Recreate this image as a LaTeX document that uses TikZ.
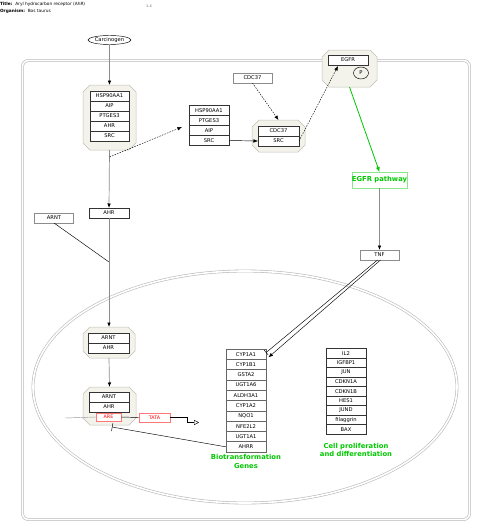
\documentclass[tikz,border=0pt]{standalone}
\usepackage{fontspec}
\setmainfont{DejaVu Sans}
\usetikzlibrary{arrows.meta,shapes.geometric,calc}
\definecolor{octfill}{RGB}{244,243,235}
\definecolor{octline}{RGB}{192,192,182}
\definecolor{cellline}{RGB}{185,185,185}
\definecolor{pgreen}{RGB}{0,200,0}
\definecolor{lgreen}{RGB}{140,230,140}
\definecolor{pred}{RGB}{255,0,0}
\definecolor{lred}{RGB}{255,120,120}
\newcommand\myoctag[5]{%
  \node[octnode,minimum width=#4pt,minimum height=#5pt] (#1) at (#2,#3) {};
  \path[octpath] ($(#1.north west)+(7,0)$) -- ($(#1.north east)+(-7,0)$) -- ($(#1.north east)+(0,7)$) -- ($(#1.south east)+(0,-7)$) -- ($(#1.south east)+(-7,0)$) -- ($(#1.south west)+(7,0)$) -- ($(#1.south west)+(0,-7)$) -- ($(#1.north west)+(0,7)$) -- cycle;}
\begin{document}
\begin{tikzpicture}[x=1pt,y=-1pt,
  every node/.style={inner sep=0pt,outer sep=0pt,font=\fontsize{5.2}{6}\selectfont},
  gene/.style={draw=black!80,fill=white,line width=0.45pt,minimum width=40pt,minimum height=10pt},
  gbox/.style={draw=black!45,fill=white,line width=0.45pt,minimum width=39pt,minimum height=10pt},
  octnode/.style={draw=none,fill=none,rectangle},
  octpath/.style={draw=octline,fill=octfill,line width=0.5pt},
  glabel/.style={font=\bfseries\fontsize{6.8}{8.6}\selectfont,text=pgreen,align=center},
  redbox/.style={draw=lred,fill=white,line width=0.6pt,text=pred,font=\fontsize{4.8}{5.5}\selectfont},
  greyline/.style={draw=black!45,line width=0.7pt},
  thin/.style={draw=black,line width=0.45pt},
  tip/.style={-{Latex[length=4.5pt,width=3.6pt,black]}},
  dashline/.style={draw=black,line width=0.45pt,dash pattern=on 1.5pt off 1.2pt},
]
\useasboundingbox (0,0) rectangle (480,530);
\fill[white] (0,0) rectangle (480,530);
% title
\node[anchor=west,font=\fontsize{4.3}{5}\selectfont] (title) at (0,4.5) {\textbf{Title:}\ \ Aryl hydrocarbon receptor (AhR)};
\node[anchor=west,font=\fontsize{4.3}{5}\selectfont] (org) at (0,11.5) {\textbf{Organism:}\ \ Bos taurus};
\node[font=\fontsize{3.5}{4}\selectfont,text=black!60] (ver) at (149,6) {1.4};
% cell and nucleus
\draw[cellline,line width=0.6pt,double=white,double distance=1.6pt,rounded corners=6pt] (22.5,60.5) rectangle (469.5,519.5);
\draw[cellline,line width=0.6pt,double=white,double distance=1.6pt] (245,387) ellipse [x radius=212pt,y radius=116pt];
% carcinogen
\node[ellipse,draw=black,line width=0.45pt,fill=white,minimum width=43pt,minimum height=9pt] (carc) at (109.5,40) {Carcinogen};
% complex 1
\myoctag{cx1}{109.5}{117.5}{53}{65}
\foreach \t/\n [count=\i] in {HSP90AA1/a,AIP/b,PTGES3/c,AHR/d,SRC/e}
  \node[gene,minimum width=39pt] (c1\n) at (109.5,{86+10*\i}) {\t};
% list 2
\foreach \t/\n [count=\i] in {HSP90AA1/a,PTGES3/b,AIP/c,SRC/d}
  \node[gene] (l2\n) at (209,{100.5+10*\i}) {\t};
% complex 2
\myoctag{cx2}{278.5}{136}{53}{32}
\node[gene,minimum width=41pt] (c2a) at (278.5,131) {CDC37};
\node[gene,minimum width=41pt] (c2b) at (278.5,141) {SRC};
% CDC37
\node[gbox] (cdc37) at (252.5,78) {CDC37};
% EGFR complex
\myoctag{cxe}{349.5}{68.5}{55}{37}
\node[gene] (egfr) at (348,60) {EGFR};
\node[ellipse,draw=black,line width=0.45pt,minimum width=15pt,minimum height=12pt] (pp) at (361,73) {P};
% EGFR pathway, TNF
\node[draw=lgreen,line width=0.6pt,fill=white,minimum width=55pt,minimum height=16pt,font=\bfseries\fontsize{6.8}{8}\selectfont,text=pgreen] (egfrpath) at (379.5,180) {EGFR pathway};
\node[gbox] (tnf) at (379.5,255) {TNF};
% AHR, ARNT
\node[gene] (ahr) at (109,213) {AHR};
\node[gbox] (arnt) at (54,218) {ARNT};
% complex 3
\myoctag{cx3}{109}{342.5}{52}{31}
\node[gene,minimum width=41pt] (c3a) at (108.5,338) {ARNT};
\node[gene,minimum width=41pt] (c3b) at (108.5,348) {AHR};
% complex 4
\myoctag{cx4}{109.5}{406}{53}{38}
\node[gene] (c4a) at (109,397) {ARNT};
\node[gene] (c4b) at (109,407) {AHR};
\node[redbox,minimum width=25pt,minimum height=8pt] (are) at (108.5,417) {ARE};
\node[redbox,minimum width=31pt,minimum height=9pt] (tata) at (154.5,417.5) {TATA};
% biotransformation genes
\foreach \t [count=\i] in {CYP1A1,CYP1B1,GSTA2,UGT1A6,ALDH3A1,CYP1A2,NQO1,NFE2L2,UGT1A1,AHRR}
  \node[gene,draw=black!60,minimum height=10.3pt] (g\i) at (246,{349+10.3*(\i-0.5)}) {\t};
\node[glabel] (bio) at (246,461.5) {Biotransformation\\Genes};
% cell proliferation genes
\foreach \t [count=\i] in {IL2,IGFBP1,JUN,CDKN1A,CDKN1B,HES1,JUND,filaggrin,BAX}
  \node[gene,minimum height=9.5pt] (h\i) at (346,{348.5+9.5*(\i-0.5)}) {\t};
\node[glabel] (cellp) at (356,450) {Cell proliferation\\and differentiation};
% connectors
\draw[greyline,tip] (carc.south) -- (cx1.north);
\draw[greyline,tip] (cx1.south) -- (ahr.north);
\coordinate (j1) at (109.5,157);
\coordinate (e1) at (182,127);
\draw[dashline,tip] (j1) -- (e1);
\draw[thin,tip] (l2d.east) -- (c2b.west);
\draw[dashline,tip] (cdc37.south) -- (cx2.north);
\coordinate (e2) at (338,66);
\draw[dashline,tip] (c2b.east) -- (e2);
\draw[pgreen,line width=0.8pt,-{Latex[length=5pt,width=4pt,pgreen]}] (cxe.south) -- (egfrpath.north);
\draw[greyline,tip] (egfrpath.south) -- (tnf.north);
\draw[thin,-{Bar[width=6pt]}] ([xshift=-2pt]tnf.south) -- ([yshift=1.5pt]g1.east);
\draw[thin,tip] ([xshift=1pt]tnf.south) -- ([xshift=2.5pt,yshift=2pt]g2.north east);
\coordinate (j2) at (109,262);
\draw[thin] (arnt.south) -- (j2);
\draw[greyline,tip] (ahr.south) -- (cx3.north);
\draw[greyline,tip] (cx3.south) -- (cx4.north);
\coordinate (p0) at (65,418);
\draw[draw=black!40,line width=0.45pt] (p0) -- (are.west);
\draw[thin] (are.east) -- (tata.west);
\draw[thin,-{Triangle[open,length=5pt,width=5pt]}] (tata.east) -- ++(17,0) -- ++(0,5) -- ++(12,0);
\coordinate (j3) at (112,427);
\draw[thin,-{Bar[width=8pt]}] (g10.west) -- (j3);
\end{tikzpicture}
\end{document}
